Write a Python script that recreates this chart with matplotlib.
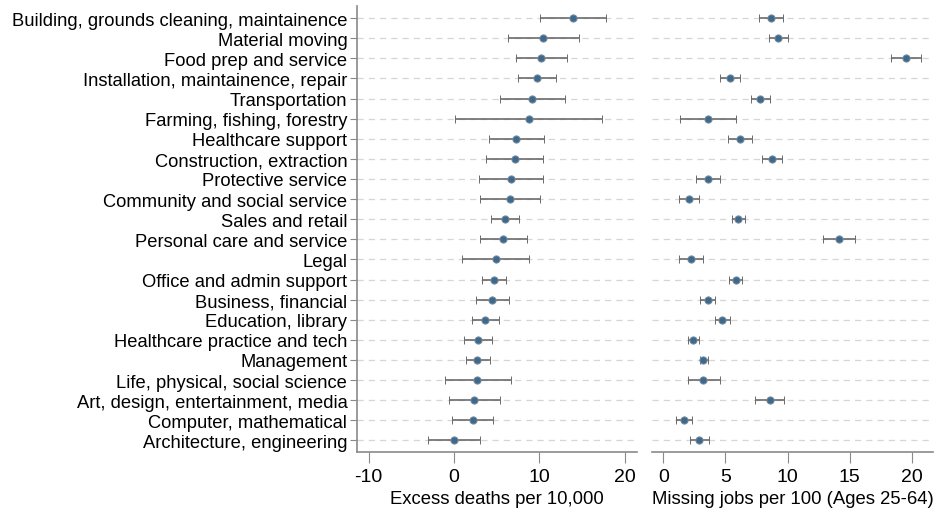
import matplotlib
matplotlib.use('Agg')
import matplotlib.pyplot as plt
import numpy as np

plt.rcParams['font.family'] = ['Liberation Sans', 'DejaVu Sans']
plt.rcParams['axes.unicode_minus'] = False

# Occupations, top to bottom
occupations = [
    'Building, grounds cleaning, maintainence',
    'Material moving',
    'Food prep and service',
    'Installation, maintainence, repair',
    'Transportation',
    'Farming, fishing, forestry',
    'Healthcare support',
    'Construction, extraction',
    'Protective service',
    'Community and social service',
    'Sales and retail',
    'Personal care and service',
    'Legal',
    'Office and admin support',
    'Business, financial',
    'Education, library',
    'Healthcare practice and tech',
    'Management',
    'Life, physical, social science',
    'Art, design, entertainment, media',
    'Computer, mathematical',
    'Architecture, engineering',
]

# Excess deaths per 10,000 (estimate, lower CI, upper CI)
deaths = [13.9, 10.45, 10.2, 9.75, 9.2, 8.8, 7.3, 7.1, 6.7, 6.6, 6.0, 5.8,
          4.9, 4.7, 4.5, 3.65, 2.8, 2.75, 2.75, 2.4, 2.2, 0.0]
deaths_lo = [10.1, 6.3, 7.3, 7.5, 5.4, 0.1, 4.1, 3.8, 2.9, 3.0, 4.3, 3.0,
             1.0, 3.3, 2.6, 2.1, 1.2, 1.4, -1.1, -0.6, -0.2, -3.0]
deaths_hi = [17.8, 14.7, 13.2, 11.9, 13.0, 17.4, 10.6, 10.4, 10.45, 10.1, 7.65, 8.6,
             8.8, 6.1, 6.4, 5.25, 4.5, 4.2, 6.7, 5.4, 4.6, 3.0]

# Missing jobs per 100 (estimate, lower CI, upper CI)
jobs = [8.66, 9.27, 19.54, 5.38, 7.82, 3.58, 6.16, 8.76, 3.60, 2.04, 6.05, 14.14,
        2.23, 5.86, 3.58, 4.76, 2.42, 3.23, 3.23, 8.55, 1.64, 2.90]
jobs_lo = [7.69, 8.52, 18.36, 4.54, 7.07, 1.32, 5.22, 7.98, 2.63, 1.24, 5.51, 12.85,
           1.26, 5.30, 2.98, 4.17, 2.02, 2.93, 1.96, 7.37, 1.02, 2.12]
jobs_hi = [9.65, 10.0, 20.78, 6.21, 8.58, 5.86, 7.15, 9.57, 4.57, 2.88, 6.61, 15.46,
           3.23, 6.37, 4.17, 5.38, 2.88, 3.58, 4.52, 9.73, 2.28, 3.68]

MARKER = '#3b6a8e'
BAR = '#6b6b6b'
SPINE = '#8a8a8a'


def coef_panel(ax, est, lo, hi, xlim, xticks, xlabel):
    est = np.array(est)
    y = np.arange(1, len(est) + 1)
    err = [est - np.array(lo), np.array(hi) - est]
    for yy in y:
        ax.axhline(yy, color='#d6d6d6', lw=0.9, ls=(0, (5, 4)), zorder=0)
    ax.errorbar(est, y, xerr=err, fmt='o', color=BAR, ecolor=BAR, elinewidth=1.2,
                capsize=2.6, capthick=1.2, markersize=5.2, markerfacecolor=MARKER,
                markeredgecolor='#7d8a96', markeredgewidth=0.7, zorder=3)
    ax.set_ylim(len(est) + 0.6, 0.4)
    ax.set_xlim(*xlim)
    ax.set_xticks(xticks)
    ax.set_xlabel(xlabel, fontsize=13.3, labelpad=4)
    for s in ['top', 'right']:
        ax.spines[s].set_visible(False)
    for s in ['left', 'bottom']:
        ax.spines[s].set_color(SPINE)
        ax.spines[s].set_linewidth(1.2)
    ax.tick_params(axis='x', length=8, color=SPINE, labelsize=14, pad=3)
    ax.tick_params(axis='y', length=5, color=SPINE, labelsize=13.2, pad=2)
    return y


fig = plt.figure(figsize=(9.35, 5.1), dpi=100)
ax1 = fig.add_axes([0.3818, 0.1108, 0.2991, 0.8755])
ax2 = fig.add_axes([0.6977, 0.1108, 0.2999, 0.8755])

y = coef_panel(ax1, deaths, deaths_lo, deaths_hi, (-11.35, 21.4), [-10, 0, 10, 20],
               'Excess deaths per 10,000')
ax1.set_yticks(y)
ax1.set_yticklabels(occupations)

coef_panel(ax2, jobs, jobs_lo, jobs_hi, (-0.89, 21.7), [0, 5, 10, 15, 20],
           'Missing jobs per 100 (Ages 25-64)')
ax2.spines['left'].set_visible(False)
ax2.set_yticks([])

fig.savefig('out.png', dpi=100)
